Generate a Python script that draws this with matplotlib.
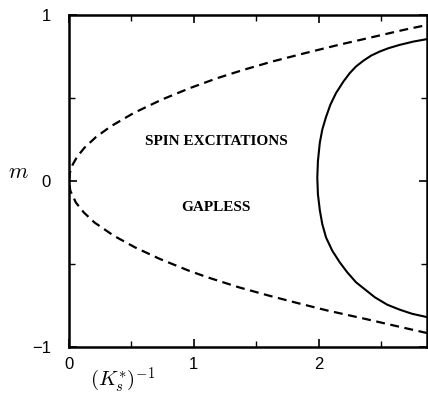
import matplotlib
matplotlib.use("Agg")
import matplotlib.pyplot as plt

plt.rcParams['mathtext.fontset'] = 'cm'

# Dashed boundary: m values and (K_s^*)^{-1} values (lower branch -> upper branch)
dash_m = [-0.916, -0.875, -0.83, -0.78, -0.735, -0.69, -0.64, -0.58, -0.54, -0.47, -0.40,
          -0.33, -0.25, -0.19, -0.13, -0.06, -0.01,
          0.05, 0.10, 0.145, 0.20, 0.265, 0.33, 0.41, 0.49, 0.56, 0.62, 0.67, 0.72,
          0.77, 0.82, 0.87, 0.91, 0.94]
dash_x = [2.87, 2.63, 2.37, 2.07, 1.83, 1.60, 1.36, 1.11, 0.96, 0.73, 0.53,
          0.36, 0.205, 0.12, 0.056, 0.012, 0.0,
          0.008, 0.031, 0.065, 0.124, 0.217, 0.337, 0.52, 0.743, 0.97, 1.19, 1.40, 1.63,
          1.89, 2.16, 2.45, 2.68, 2.87]

# Solid boundary (lower branch -> upper branch)
solid_m = [-0.825, -0.82, -0.80, -0.775, -0.745, -0.70, -0.67, -0.61, -0.55, -0.49, -0.42,
           -0.34, -0.26, -0.175, -0.08, 0.02, 0.12, 0.23, 0.31, 0.386, 0.46, 0.53, 0.60,
           0.65, 0.69, 0.725, 0.755, 0.78, 0.80, 0.82, 0.84, 0.855, 0.86]
solid_x = [2.90, 2.87, 2.75, 2.65, 2.55, 2.45, 2.40, 2.30, 2.23, 2.17, 2.11,
           2.06, 2.03, 2.01, 1.995, 1.99, 1.995, 2.01, 2.03, 2.06, 2.095, 2.14, 2.20,
           2.25, 2.30, 2.36, 2.42, 2.49, 2.56, 2.65, 2.76, 2.87, 2.90]

xticks = [0, 1, 2]
yticks = [-1, 0, 1]

fig = plt.figure(figsize=(4.28, 3.95), dpi=100)
ax = fig.add_axes([0.161, 0.1215, 0.837, 0.8405])

ax.plot(dash_x, dash_m, color='black', lw=1.6, ls=(0, (4, 2.5)))
ax.plot(solid_x, solid_m, color='black', lw=1.5)

ax.set_xlim(0, 2.87)
ax.set_ylim(-1, 1)
ax.set_xticks(xticks)
ax.set_yticks(yticks)
ax.set_xticklabels(['0', '1', '2'], fontfamily='Liberation Sans', fontsize=12)
ax.set_yticklabels(['\u22121', '0', '1'], fontfamily='Liberation Sans', fontsize=12)
ax.set_xticks([0.5, 1.5, 2.5], minor=True)
ax.set_yticks([-0.5, 0.5], minor=True)
ax.tick_params(which='major', direction='in', length=6, width=1.2, top=True, right=True)
ax.tick_params(which='minor', direction='in', length=4, width=1.0, top=True, right=True)
ax.tick_params(axis='y', which='major', pad=13)
ax.tick_params(axis='x', which='major', pad=7)
for s in ax.spines.values():
    s.set_linewidth(1.8)

ax.text(1.18, 0.24, 'SPIN EXCITATIONS', ha='center', va='center',
        fontfamily='Liberation Serif', fontweight='bold', fontsize=11)
ax.text(1.18, -0.157, 'GAPLESS', ha='center', va='center',
        fontfamily='Liberation Serif', fontweight='bold', fontsize=11)

fig.text(18/428, 1-172/395, '$m$', ha='center', va='center', fontsize=16)
fig.text(123/428, 1-380/395, r'$(K_s^{*})^{-1}$', ha='center', va='center', fontsize=15)

fig.savefig('out.png', dpi=100)
